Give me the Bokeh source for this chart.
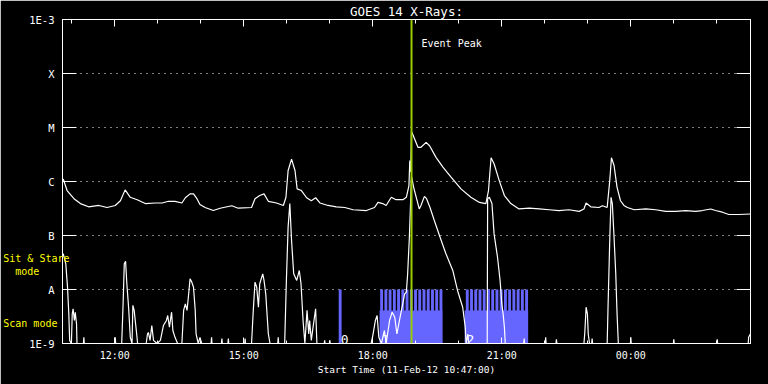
import pandas as pd
from bokeh.plotting import figure
from bokeh.models import (FixedTicker, LinearAxis, LogAxis, Span, Label, Range1d,
                          ColumnDataSource, CustomJSTickFormatter)
from bokeh.core.properties import value
from bokeh.embed import file_html
from bokeh.resources import INLINE

# ---------------- data ----------------
DAY = "2012-02-11"
start_hour = 10 + 47 / 60          # 10:47
end_hour = 26 + 47 / 60            # 02:47 next day

# GOES 14 long channel (1-8 A); hours of 11-Feb-12 (24+ = next day), flux W/m^2
long_hours = [10.80, 10.89, 11.05, 11.20, 11.39, 11.63, 11.82, 12.01, 12.13, 12.24,
              12.36, 12.52, 12.71, 12.94, 13.10, 13.25, 13.40, 13.56, 13.64, 13.75,
              13.83, 13.91, 13.98, 14.10, 14.29, 14.45, 14.72, 14.87, 15.18, 15.26,
              15.37, 15.47, 15.57, 15.76, 15.92, 15.98, 16.03, 16.11, 16.19, 16.24,
              16.34, 16.46, 16.57, 16.67, 16.77, 16.96, 17.15, 17.35, 17.54, 17.85,
              18.04, 18.12, 18.23, 18.31, 18.43, 18.54, 18.70, 18.78, 18.84, 18.86,
              18.88, 18.90, 18.93, 19.05, 19.12, 19.24, 19.32, 19.47, 19.63, 19.82,
              20.05, 20.28, 20.48, 20.63, 20.69, 20.75, 20.82, 20.94, 21.06, 21.21,
              21.40, 21.64, 21.87, 22.10, 22.33, 22.56, 22.80, 22.91, 22.96, 23.07,
              23.26, 23.34, 23.45, 23.51, 23.55, 23.61, 23.68, 23.76, 23.84, 23.92,
              24.08, 24.35, 24.58, 24.81, 25.04, 25.28, 25.51, 25.66, 25.86, 25.97,
              26.13, 26.28, 26.51, 26.78]
long_flux = [1.12e-6, 6.8e-7, 4.8e-7, 3.9e-7, 3.4e-7, 3.6e-7, 3.3e-7, 3.6e-7, 4.4e-7, 7.0e-7,
             5.1e-7, 4.6e-7, 3.9e-7, 4.0e-7, 4.0e-7, 4.3e-7, 4.3e-7, 4.0e-7, 5.0e-7, 5.9e-7,
             5.9e-7, 4.8e-7, 3.75e-7, 3.3e-7, 2.9e-7, 3.2e-7, 3.55e-7, 3.2e-7, 3.3e-7, 4.8e-7,
             5.5e-7, 5.9e-7, 4.3e-7, 4.0e-7, 3.6e-7, 5.1e-7, 1.6e-6, 2.6e-6, 1.6e-6, 7.3e-7,
             6.8e-7, 5.0e-7, 4.4e-7, 5.0e-7, 4.0e-7, 3.6e-7, 3.4e-7, 3.3e-7, 3.0e-7, 2.9e-7,
             3.3e-7, 4.1e-7, 3.9e-7, 3.6e-7, 5.1e-7, 4.6e-7, 4.6e-7, 5.1e-7, 8.4e-7, 2.45e-6,
             1.5e-6, 8.4e-6, 7.4e-6, 4.3e-6, 4.3e-6, 5.3e-6, 4.6e-6, 2.8e-6, 1.84e-6, 1.2e-6,
             7.3e-7, 5.1e-7, 4.1e-7, 3.9e-7, 6.8e-7, 2.75e-6, 2.13e-6, 1.04e-6, 5.5e-7, 3.9e-7,
             3.1e-7, 3.2e-7, 3.1e-7, 3.0e-7, 2.9e-7, 3.0e-7, 2.8e-7, 3.1e-7, 4.0e-7, 3.4e-7,
             3.3e-7, 3.55e-7, 3.3e-7, 1.04e-6, 2.75e-6, 1.98e-6, 7.8e-7, 4.4e-7, 3.6e-7, 3.3e-7,
             3.0e-7, 3.1e-7, 3.0e-7, 2.8e-7, 2.8e-7, 2.9e-7, 2.8e-7, 2.9e-7, 3.1e-7, 2.9e-7,
             2.7e-7, 2.45e-7, 2.45e-7, 2.5e-7]

# GOES 14 short channel (0.5-4 A)
short_hours = [10.80, 10.86, 10.90, 10.93, 10.95, 10.99, 11.01, 11.03, 11.06, 11.08,
               11.11, 11.12, 11.27, 11.28, 11.29, 12.00, 12.01, 12.02, 12.16, 12.19,
               12.22, 12.25, 12.28, 12.32, 12.36, 12.40, 12.42, 12.45, 12.50, 12.53,
               12.73, 12.76, 12.78, 12.82, 12.86, 12.90, 12.98, 13.06, 13.13, 13.20,
               13.23, 13.27, 13.32, 13.35, 13.40, 13.46, 13.56, 13.60, 13.64, 13.68,
               13.71, 13.75, 13.79, 13.83, 13.87, 13.89, 13.94, 13.98, 14.02, 14.24,
               14.25, 14.26, 14.48, 14.49, 14.50, 14.63, 14.64, 14.65, 15.02, 15.03,
               15.04, 15.18, 15.22, 15.26, 15.30, 15.34, 15.37, 15.44, 15.47, 15.51,
               15.57, 15.61, 15.79, 15.80, 15.81, 15.95, 15.99, 16.03, 16.07, 16.11,
               16.16, 16.23, 16.29, 16.33, 16.38, 16.42, 16.47, 16.51, 16.53, 16.57,
               16.61, 16.67, 16.70, 16.87, 16.88, 16.89, 16.99, 17.00, 17.01, 17.96,
               18.00, 18.06, 18.10, 18.14, 18.20, 18.27, 18.31, 18.39, 18.45, 18.51,
               18.56, 18.62, 18.68, 18.74, 18.78, 18.81, 18.85, 18.88, 18.90, 18.95,
               19.01, 19.08, 19.12, 19.20, 19.25, 19.33, 19.43, 19.55, 19.70, 19.86,
               19.97, 20.09, 20.15, 20.17, 20.21, 20.23, 20.66, 20.67, 20.71, 20.77,
               20.82, 20.90, 20.96, 21.00, 21.03, 21.06, 21.08, 21.51, 21.52, 21.53,
               22.01, 22.02, 22.03, 22.26, 22.27, 22.28, 22.91, 22.93, 22.96, 22.99,
               23.01, 23.04, 23.09, 23.10, 23.11, 23.45, 23.47, 23.51, 23.54, 23.57,
               23.61, 23.65, 23.68, 23.71, 23.99, 24.00, 24.01, 24.99, 25.00, 25.01,
               26.00, 26.01, 26.02, 26.73, 26.74, 26.78]
short_flux = [4.6e-8, 3.0e-8, 1.1e-8, 3.55e-9, 1.14e-9, 1e-9, 3.55e-9, 4.4e-9, 2.67e-9, 3.8e-9,
              2.3e-9, 1e-9, 1e-9, 1.3e-9, 1e-9, 1e-9, 1.3e-9, 1e-9, 1e-9, 4.7e-9,
              3.0e-8, 3.34e-8, 1.28e-8, 4.7e-9, 1.3e-9, 1e-9, 5.1e-9, 4.1e-9, 1.74e-9, 1e-9,
              1e-9, 1.5e-9, 1.6e-9, 1.14e-9, 2.15e-9, 1.14e-9, 1e-9, 1.14e-9, 2.15e-9, 2.67e-9,
              3.3e-9, 2.0e-9, 3.8e-9, 1.74e-9, 1.3e-9, 1e-9, 1e-9, 4.1e-9, 5.4e-9, 4.1e-9,
              7.2e-9, 1.58e-8, 1.37e-8, 1.1e-8, 4.1e-9, 1.5e-9, 1e-9, 1.3e-9, 1e-9, 1e-9,
              1.3e-9, 1e-9, 1e-9, 1.24e-9, 1e-9, 1e-9, 1.24e-9, 1e-9, 1e-9, 1.24e-9,
              1e-9, 1e-9, 4.1e-9, 1.37e-8, 1.1e-8, 4.7e-9, 1.28e-8, 1.95e-8, 1.47e-8, 8.3e-9,
              1.5e-9, 1e-9, 1e-9, 1.3e-9, 1e-9, 1e-9, 1.47e-8, 1.43e-7, 3.9e-7, 8.1e-8,
              1.95e-8, 1.47e-8, 2.25e-8, 1.28e-8, 2.5e-9, 1e-9, 4.1e-9, 1.5e-9, 2.67e-9, 1.14e-9,
              2.0e-9, 4.4e-9, 1e-9, 1e-9, 1.14e-9, 1e-9, 1e-9, 1.14e-9, 1e-9, 1e-9,
              1.4e-9, 2.67e-9, 3.3e-9, 1.3e-9, 1e-9, 1.74e-9, 1e-9, 2.67e-9, 3.8e-9, 3.07e-9,
              1.5e-9, 2.67e-9, 4.7e-9, 8.3e-9, 8.9e-9, 1.95e-8, 9.3e-8, 4.45e-7, 1.24e-6, 7.8e-7,
              5.1e-7, 3.1e-7, 3.6e-7, 5.3e-7, 4.8e-7, 3.3e-7, 1.9e-7, 1.0e-7, 4.6e-8, 2.25e-8,
              9.6e-9, 4.7e-9, 2.0e-9, 1e-9, 1.5e-9, 1e-9, 1e-9, 4.8e-7, 5.1e-7, 3.9e-7,
              1.07e-7, 3.96e-8, 1.47e-8, 5.4e-9, 3.55e-9, 2.0e-9, 1e-9, 1e-9, 1.24e-9, 1e-9,
              1e-9, 1.3e-9, 1e-9, 1e-9, 1.2e-9, 1e-9, 1e-9, 1.6e-9, 4.7e-9, 3.55e-9,
              1.5e-9, 1e-9, 1e-9, 1.24e-9, 1e-9, 1e-9, 4.7e-9, 8.1e-8, 5.1e-7, 3.9e-7,
              9.3e-8, 1.95e-8, 3.55e-9, 1e-9, 1e-9, 1.3e-9, 1e-9, 1e-9, 1.2e-9, 1e-9,
              1e-9, 1.2e-9, 1e-9, 1e-9, 1.3e-9, 1.5e-9]

# observation coverage (hours)
scan_start = [18.157, 20.135]
scan_end = [19.618, 21.612]
raster_start = [17.207,
                18.171, 18.270, 18.368, 18.467, 18.565, 18.664, 18.762, 18.861, 18.960,
                19.058, 19.157, 19.255, 19.354, 19.452, 19.551,
                20.163, 20.262, 20.360, 20.459, 20.557, 20.656, 20.754, 20.853, 20.951,
                21.050, 21.148, 21.247, 21.346, 21.444, 21.543]
raster_duration = 0.067
scan_level = 4.1e-9          # drawn height of scan-mode blocks
sitstare_level = 1e-8        # drawn height of sit & stare rasters
seq_labels = ["0", "1", "2"]
seq_hours = [17.207, 18.157, 20.135]

event_peak_hour = 18.90

x_major_hours = [12, 15, 18, 21, 24]
x_minor_hours = [11, 12, 13, 14, 15, 16, 17, 18, 19, 20, 21, 22, 23, 24, 25, 26]
y_ticks = [1e-9, 1e-8, 1e-7, 1e-6, 1e-5, 1e-4, 1e-3]
y_tick_labels = ["1E-9", "A", "B", "C", "M", "X", "1E-3"]
grid_levels = [1e-8, 1e-7, 1e-6, 1e-5, 1e-4]
mode_levels = [2.35e-9, 2.15e-8, 3.75e-8]           # where the mode key texts sit
NB = "\u00a0"
mode_texts = ["Scan mode" + NB * 2, "mode" + NB * 5, "Sit & Stare"]

# ---------------- helpers ----------------
base_ms = pd.Timestamp(DAY).value / 1e6


def to_ms(hours):
    return [base_ms + h * 3600000.0 for h in hours]


FONT = "DejaVu Sans Mono"

p = figure(width=768, height=384, x_axis_type="datetime", y_axis_type="log",
           x_range=Range1d(to_ms([start_hour])[0], to_ms([end_hour])[0]),
           y_range=Range1d(1e-9, 1e-3),
           output_backend="svg", toolbar_location=None,
           background_fill_color="black", border_fill_color="black",
           outline_line_color="white",
           min_border_left=60, min_border_right=18, min_border_top=19, min_border_bottom=41)

p.title.text = "GOES 14 X-Rays:"
p.title.align = "center"
p.title.text_color = "white"
p.title.text_font = FONT
p.title.text_font_style = "normal"
p.title.text_font_size = "12.5px"
p.title.standoff = 2
p.title.offset = 0

xfmt = CustomJSTickFormatter(code="""
const d = new Date(tick); const h = d.getUTCHours(), m = d.getUTCMinutes();
return (h < 10 ? '0' : '') + h + ':' + (m < 10 ? '0' : '') + m;""")
yfmt = CustomJSTickFormatter(args=dict(labels=y_tick_labels), code="""
const k = Math.round(Math.log10(tick)) + 9;
return labels[k];""")
modefmt = CustomJSTickFormatter(args=dict(levels=mode_levels, labels=mode_texts), code="""
let best = 0;
for (let i = 0; i < levels.length; i++)
  if (Math.abs(Math.log10(levels[i]) - Math.log10(tick)) < Math.abs(Math.log10(levels[best]) - Math.log10(tick))) best = i;
return labels[best];""")
blankfmt = CustomJSTickFormatter(code="return '';")

xticker = FixedTicker(ticks=to_ms(x_major_hours), minor_ticks=to_ms(x_minor_hours))
yticker = FixedTicker(ticks=y_ticks, minor_ticks=[])


def style(ax):
    ax.axis_line_color = "white"
    ax.major_tick_line_color = "white"
    ax.minor_tick_line_color = "white"
    ax.major_label_text_color = "white"
    ax.major_label_text_font = FONT
    ax.major_tick_out = 0
    ax.minor_tick_out = 0


xa = p.xaxis[0]
style(xa)
xa.ticker = xticker
xa.formatter = xfmt
xa.major_tick_in = 6
xa.minor_tick_in = 3
xa.major_label_text_font_size = "10px"
xa.major_label_standoff = 6
xa.axis_label = "Start Time (11-Feb-12 10:47:00)"
xa.axis_label_text_color = "white"
xa.axis_label_text_font = FONT
xa.axis_label_text_font_style = "normal"
xa.axis_label_text_font_size = "9.5px"
xa.axis_label_standoff = 0

ya = p.yaxis[0]
style(ya)
ya.ticker = yticker
ya.formatter = yfmt
ya.major_tick_in = 14
ya.minor_tick_in = 0
ya.major_label_text_font_size = "10.5px"
ya.major_label_text_align = "center"
ya.major_label_standoff = 8

# key for the observing modes, drawn as an outer left axis
mode_axis = LogAxis(ticker=FixedTicker(ticks=mode_levels, minor_ticks=[]), formatter=modefmt,
                    axis_line_color=None, major_tick_line_color=None, minor_tick_line_color=None,
                    major_tick_in=0, major_tick_out=0, minor_tick_in=0, minor_tick_out=0,
                    major_label_text_color="#ffff00", major_label_text_font=FONT,
                    major_label_text_font_size="10px", major_label_standoff=-43)
p.add_layout(mode_axis, "left")

top = LinearAxis(ticker=xticker, formatter=blankfmt, major_label_standoff=0,
                 major_label_text_font_size="1px")
style(top)
top.major_tick_in = 7
top.minor_tick_in = 4
p.add_layout(top, "above")

right = LogAxis(ticker=yticker, formatter=blankfmt, major_label_standoff=0,
                major_label_text_font_size="1px")
style(right)
right.major_tick_in = 14
right.minor_tick_in = 0
p.add_layout(right, "right")

p.xgrid.visible = False
p.ygrid.ticker = FixedTicker(ticks=grid_levels, minor_ticks=[])
p.ygrid.grid_line_color = "white"
p.ygrid.grid_line_dash = "1 5"
p.ygrid.grid_line_width = 1

BLUE = "#6666ff"
scan_src = ColumnDataSource(dict(left=to_ms(scan_start), right=to_ms(scan_end),
                                 bottom=[1e-9] * len(scan_start), top=[scan_level] * len(scan_start)))
p.quad(left="left", right="right", bottom="bottom", top="top", source=scan_src,
       fill_color=BLUE, line_color=None)
rast_src = ColumnDataSource(dict(left=to_ms(raster_start),
                                 right=to_ms([h + raster_duration for h in raster_start]),
                                 bottom=[1e-9] * len(raster_start),
                                 top=[sitstare_level] * len(raster_start)))
p.quad(left="left", right="right", bottom="bottom", top="top", source=rast_src,
       fill_color=BLUE, line_color=None)

p.line(to_ms(long_hours), long_flux, line_color="white", line_width=1.2)
p.line(to_ms(short_hours), short_flux, line_color="white", line_width=1.2)

seq_src = ColumnDataSource(dict(x=to_ms(seq_hours), y=[1.2e-9] * 3, t=seq_labels))
p.text(x="x", y="y", text="t", source=seq_src, text_color="white", x_offset=2,
       text_font=value(FONT), text_font_size="13px", text_baseline="alphabetic")

p.add_layout(Span(location=to_ms([event_peak_hour])[0], dimension="height",
                  line_color="#99cc00", line_width=2))
p.add_layout(Label(x=to_ms([event_peak_hour])[0], y=3.6e-4, x_offset=10, text="Event Peak",
                   text_color="white", text_font=FONT, text_font_size="10px",
                   text_baseline="middle"))

open("out.html", "w").write(file_html(p, INLINE))
